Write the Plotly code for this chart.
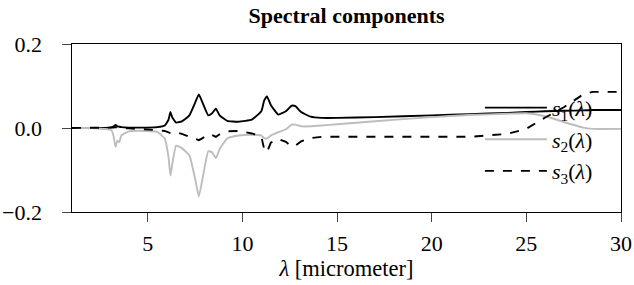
import plotly.graph_objects as go

wavelength = [1, 2, 3, 3.1, 3.2, 3.3, 3.4, 3.5, 3.6, 4, 5, 5.5, 5.9, 6.1, 6.2, 6.3, 6.5, 6.8, 7.0, 7.2,
              7.5, 7.7, 7.9, 8.2, 8.4, 8.6, 8.8, 9.2, 9.8, 10.5, 11.0, 11.15, 11.3, 11.5, 11.9, 12.3,
              12.6, 12.8, 13.1, 13.6, 14.2, 15, 17, 20, 22, 24, 25, 26, 27, 28, 28.5, 30]

s1 = [0, 0, 0.001, 0.002, 0.004, 0.007, 0.004, 0.003, 0.002, 0.001, 0.001, 0.002, 0.006, 0.020, 0.038,
      0.025, 0.013, 0.016, 0.022, 0.030, 0.060, 0.080, 0.060, 0.030, 0.035, 0.046, 0.030, 0.017, 0.015,
      0.020, 0.040, 0.065, 0.075, 0.055, 0.032, 0.040, 0.053, 0.052, 0.038, 0.027, 0.024, 0.024, 0.026,
      0.030, 0.033, 0.036, 0.038, 0.040, 0.041, 0.042, 0.043, 0.043]

s2 = [0, 0, -0.004, -0.006, -0.020, -0.045, -0.030, -0.034, -0.018, -0.008, -0.007, -0.009, -0.025,
      -0.070, -0.113, -0.085, -0.042, -0.048, -0.056, -0.065, -0.120, -0.163, -0.120, -0.055, -0.058,
      -0.072, -0.050, -0.025, -0.018, -0.016, -0.018, -0.024, -0.025, -0.018, -0.010, -0.003, 0.008,
      0.008, 0.004, 0.004, 0.006, 0.009, 0.016, 0.026, 0.031, 0.034, 0.035, 0.028, 0.014, 0.001,
      -0.002, -0.002]

s3 = [0, 0, 0, 0.001, 0.001, 0.002, 0.001, 0, 0, -0.001, -0.003, -0.005, -0.007, -0.010, -0.012,
      -0.011, -0.010, -0.014, -0.017, -0.020, -0.026, -0.029, -0.024, -0.015, -0.017, -0.021, -0.015,
      -0.008, -0.007, -0.013, -0.020, -0.050, -0.058, -0.035, -0.026, -0.033, -0.044, -0.042, -0.032,
      -0.024, -0.021, -0.021, -0.022, -0.022, -0.021, -0.014, -0.002, 0.025, 0.050, 0.080, 0.086, 0.086]

series_names = ["<i>s</i><sub>1</sub>(<i>λ</i>)", "<i>s</i><sub>2</sub>(<i>λ</i>)", "<i>s</i><sub>3</sub>(<i>λ</i>)"]
xticks = [5, 10, 15, 20, 25, 30]
yticks = [-0.2, 0.0, 0.2]
ytick_labels = ["−0.2\u00a0", "0.0\u00a0", "0.2\u00a0"]

FONT = "Liberation Serif"

fig = go.Figure()
styles = [dict(color="black", width=1.9, dash="solid", shape="spline", smoothing=0.4),
          dict(color="#bdbdbd", width=1.9, dash="solid", shape="spline", smoothing=0.4),
          dict(color="black", width=1.9, dash="dash", shape="linear")]
for i, (vals, name) in enumerate(zip([s1, s2, s3], series_names)):
    fig.add_trace(go.Scatter(x=wavelength, y=vals, mode="lines", name=name,
                             line=styles[i], legendgroup=f"g{i}"))

fig.update_layout(
    template="none",
    width=634, height=285,
    margin=dict(l=72, r=13, t=44, b=73),
    paper_bgcolor="white", plot_bgcolor="white",
    font=dict(family=FONT, size=22, color="black"),
    title=dict(text="<b>Spectral components</b>", x=0.5, xref="paper", xanchor="center",
               y=0.975, yanchor="top", font=dict(family=FONT, size=22)),
    showlegend=True,
    legend=dict(x=0.743, y=0.745, xanchor="left", yanchor="top", bgcolor="rgba(0,0,0,0)",
                borderwidth=0, tracegroupgap=0, itemwidth=62, font=dict(family=FONT, size=22)),
)
fig.update_xaxes(range=[1, 30], tickvals=xticks, ticks="outside", ticklen=9, tickwidth=1.3,
                 ticklabelstandoff=2, tickfont=dict(family=FONT, size=22),
                 showline=True, linecolor="black", linewidth=1.3, mirror=True, showgrid=False,
                 zeroline=False, title=dict(text="<i>λ</i> [micrometer]", standoff=4,
                                            font=dict(family=FONT, size=22.5)))
fig.update_yaxes(range=[-0.2, 0.2], tickvals=yticks, ticktext=ytick_labels, ticks="outside",
                 ticklen=9, tickwidth=1.3, ticklabelstandoff=10, tickfont=dict(family=FONT, size=22),
                 showline=True, linecolor="black",
                 linewidth=1.3, mirror=True, showgrid=False, zeroline=False)

fig.write_html("out.html", config={"displayModeBar": False},
               post_script="document.body.style.margin='0';")
